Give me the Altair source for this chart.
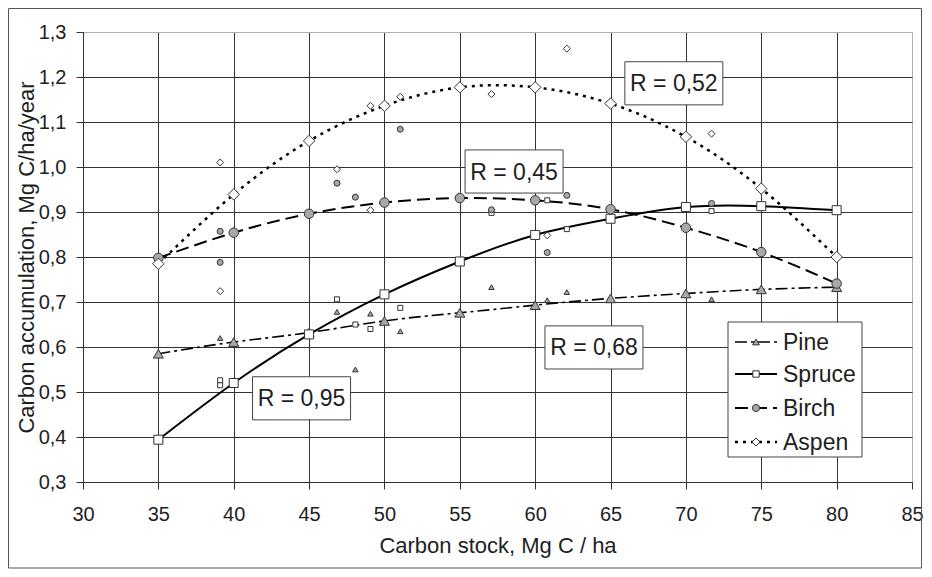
import altair as alt
import pandas as pd

species = ["Pine", "Spruce", "Birch", "Aspen"]

# fitted (trend) values at regular carbon stock steps
stock_fit = [35, 40, 45, 50, 55, 60, 65, 70, 75, 80]
pine_fit = [0.585, 0.611, 0.632, 0.658, 0.676, 0.693, 0.708, 0.719, 0.728, 0.733]
spruce_fit = [0.394, 0.520, 0.628, 0.717, 0.790, 0.849, 0.885, 0.911, 0.913, 0.904]
birch_fit = [0.798, 0.854, 0.896, 0.921, 0.931, 0.926, 0.906, 0.865, 0.811, 0.741]
aspen_fit = [0.785, 0.939, 1.058, 1.136, 1.177, 1.177, 1.141, 1.067, 0.952, 0.800]

# observed values (small markers)
pine_obs_x = [39.1, 46.85, 48.07, 49.07, 51.05, 57.1, 60.8, 62.1, 71.7]
pine_obs_y = [0.620, 0.678, 0.550, 0.674, 0.635, 0.733, 0.704, 0.722, 0.706]
spruce_obs_x = [39.1, 39.1, 46.85, 48.07, 49.07, 51.05, 57.1, 60.8, 62.1, 71.7]
spruce_obs_y = [0.526, 0.515, 0.706, 0.650, 0.640, 0.687, 0.898, 0.926, 0.862, 0.902]
birch_obs_x = [39.1, 39.1, 46.85, 48.07, 51.05, 57.1, 60.8, 62.1, 71.7]
birch_obs_y = [0.857, 0.788, 0.964, 0.933, 1.084, 0.905, 0.810, 0.937, 0.919]
aspen_obs_x = [39.1, 39.1, 46.85, 49.07, 49.07, 51.05, 57.1, 60.8, 62.1, 71.7]
aspen_obs_y = [1.010, 0.724, 0.995, 0.904, 1.136, 1.156, 1.162, 0.848, 1.263, 1.074]

# correlation labels
r_text = ["R = 0,95", "R = 0,68", "R = 0,45", "R = 0,52"]
r_x = [44.5, 63.9, 58.6, 69.2]
r_y = [0.486, 0.599, 0.990, 1.186]

x_ticks = [30, 35, 40, 45, 50, 55, 60, 65, 70, 75, 80, 85]
y_ticks = [0.3, 0.4, 0.5, 0.6, 0.7, 0.8, 0.9, 1.0, 1.1, 1.2, 1.3]

fits = {"Pine": pine_fit, "Spruce": spruce_fit, "Birch": birch_fit, "Aspen": aspen_fit}
obs = {
    "Pine": (pine_obs_x, pine_obs_y),
    "Spruce": (spruce_obs_x, spruce_obs_y),
    "Birch": (birch_obs_x, birch_obs_y),
    "Aspen": (aspen_obs_x, aspen_obs_y),
}

fit_df = pd.DataFrame(
    [{"species": s, "stock": x, "acc": v} for s in species for x, v in zip(stock_fit, fits[s])]
)
obs_df = pd.DataFrame(
    [{"species": s, "stock": x, "acc": v} for s in species for x, v in zip(*obs[s])]
)
r_df = pd.DataFrame({"label": r_text, "stock": r_x, "acc": r_y})

FONT = "Liberation Sans"
TXT = "#1e1e1e"
GRID = "#333333"

style = {
    "Pine": dict(dash=[12, 4, 3, 4], width=1.6, shape="triangle-up", fill="#a8a8a8", big=100, small=30),
    "Spruce": dict(dash=None, width=2.0, shape="square", fill="white", big=81, small=25),
    "Birch": dict(dash=[13, 6], width=2.0, shape="circle", fill="#a8a8a8", big=90, small=36),
    "Aspen": dict(dash=[3, 5], width=2.5, shape="diamond", fill="white", big=130, small=49),
}

X = alt.X(
    "stock:Q",
    scale=alt.Scale(domain=[30, 85], nice=False, zero=False),
    axis=alt.Axis(
        values=x_ticks,
        title="Carbon stock, Mg C / ha",
        titleFontSize=22,
        titleFontWeight="normal",
        titleColor=TXT,
        titleFont=FONT,
        titleX=414.5,
        titleY=70,
        titleBaseline="alphabetic",
        labelFontSize=20,
        labelFont=FONT,
        labelColor=TXT,
        labelPadding=15,
        tickSize=7,
        tickColor="#333333",
        domainColor="#333333",
        grid=True,
        gridColor={"condition": {"test": "datum.value > 84", "value": "#b0b0b0"}, "value": GRID},
        labelFlush=False,
    ),
)
Y = alt.Y(
    "acc:Q",
    scale=alt.Scale(domain=[0.3, 1.3], nice=False, zero=False),
    axis=alt.Axis(
        values=y_ticks,
        labelExpr="replace(format(datum.value, '.1f'), '.', ',')",
        title="Carbon accumulation, Mg C/ha/year",
        titleFontSize=22,
        titleFontWeight="normal",
        titleColor=TXT,
        titleFont=FONT,
        titleX=-50,
        titleY=225,
        titleAngle=270,
        titleAlign="center",
        titleBaseline="alphabetic",
        labelFontSize=20,
        labelFont=FONT,
        labelColor=TXT,
        labelPadding=10,
        tickSize=7,
        tickColor="#333333",
        domainColor="#333333",
        grid=True,
        gridColor={"condition": {"test": "datum.value > 1.25", "value": "#b0b0b0"}, "value": GRID},
        labelFlush=False,
    ),
)

one = pd.DataFrame({"k": [0]})

frame = alt.Chart(one).mark_rect(fill="white", fillOpacity=0, stroke="#555555", strokeWidth=1).encode(
    x=alt.value(-74.5), x2=alt.value(838.5), y=alt.value(-23.5), y2=alt.value(536)
)

layers = [frame]

for s in species:
    st = style[s]
    kw = dict(color="black", strokeWidth=st["width"], interpolate="natural")
    if st["dash"]:
        kw["strokeDash"] = st["dash"]
    layers.append(
        alt.Chart(fit_df).transform_filter(alt.datum.species == s).mark_line(**kw).encode(x=X, y=Y)
    )

for s in species:
    st = style[s]
    layers.append(
        alt.Chart(obs_df).transform_filter(alt.datum.species == s).mark_point(
            shape=st["shape"], filled=True, fill=st["fill"], stroke="#333333", strokeWidth=1,
            size=st["small"], opacity=1,
        ).encode(x=X, y=Y)
    )

for s in species:
    st = style[s]
    layers.append(
        alt.Chart(fit_df).transform_filter(alt.datum.species == s).mark_point(
            shape=st["shape"], filled=True, fill=st["fill"], stroke="#333333", strokeWidth=1,
            size=st["big"], opacity=1,
        ).encode(x=X, y=Y)
    )

# R label boxes and text
layers.append(
    alt.Chart(r_df).mark_point(
        shape="M-1,-0.44L1,-0.44L1,0.44L-1,0.44Z", filled=True, fill="white",
        stroke="#444444", strokeWidth=1, size=9604, opacity=1,
    ).encode(x=X, y=Y)
)
layers.append(
    alt.Chart(r_df).mark_text(
        font=FONT, fontSize=23, color=TXT, align="center", baseline="middle", dy=1
    ).encode(x=X, y=Y, text="label:N")
)

# legend (decoration)
leg_rows = [310, 342, 376, 410]
layers.append(
    alt.Chart(one).mark_rect(fill="white", stroke="#444444", strokeWidth=1).encode(
        x=alt.value(645), x2=alt.value(779), y=alt.value(290), y2=alt.value(425)
    )
)
for s, ry in zip(species, leg_rows):
    st = style[s]
    kw = dict(color="black", strokeWidth=st["width"])
    if st["dash"]:
        kw["strokeDash"] = st["dash"]
    sdf = pd.DataFrame({"species": [s]})
    layers.append(
        alt.Chart(sdf).mark_rule(**kw).encode(x=alt.value(652), x2=alt.value(694), y=alt.value(ry))
    )
    layers.append(
        alt.Chart(sdf).mark_point(
            shape=st["shape"], filled=True, fill=st["fill"], stroke="#333333", strokeWidth=1,
            size=st["small"] + 15, opacity=1,
        ).encode(x=alt.value(673), y=alt.value(ry))
    )
    layers.append(
        alt.Chart(sdf).mark_text(
            font=FONT, fontSize=23, color=TXT, align="left", baseline="middle", dy=1
        ).encode(x=alt.value(700), y=alt.value(ry), text="species:N")
    )

chart = (
    alt.layer(*layers)
    .properties(
        width=829,
        height=450,
        autosize=alt.AutoSizeParams(type="none"),
        padding={"left": 75, "top": 24, "right": 12, "bottom": 87},
        background="white",
    )
    .configure_view(stroke="#b0b0b0", strokeWidth=1)
    .configure(font=FONT)
)

chart.save("out.html", embed_options={"renderer": "svg", "actions": False})
